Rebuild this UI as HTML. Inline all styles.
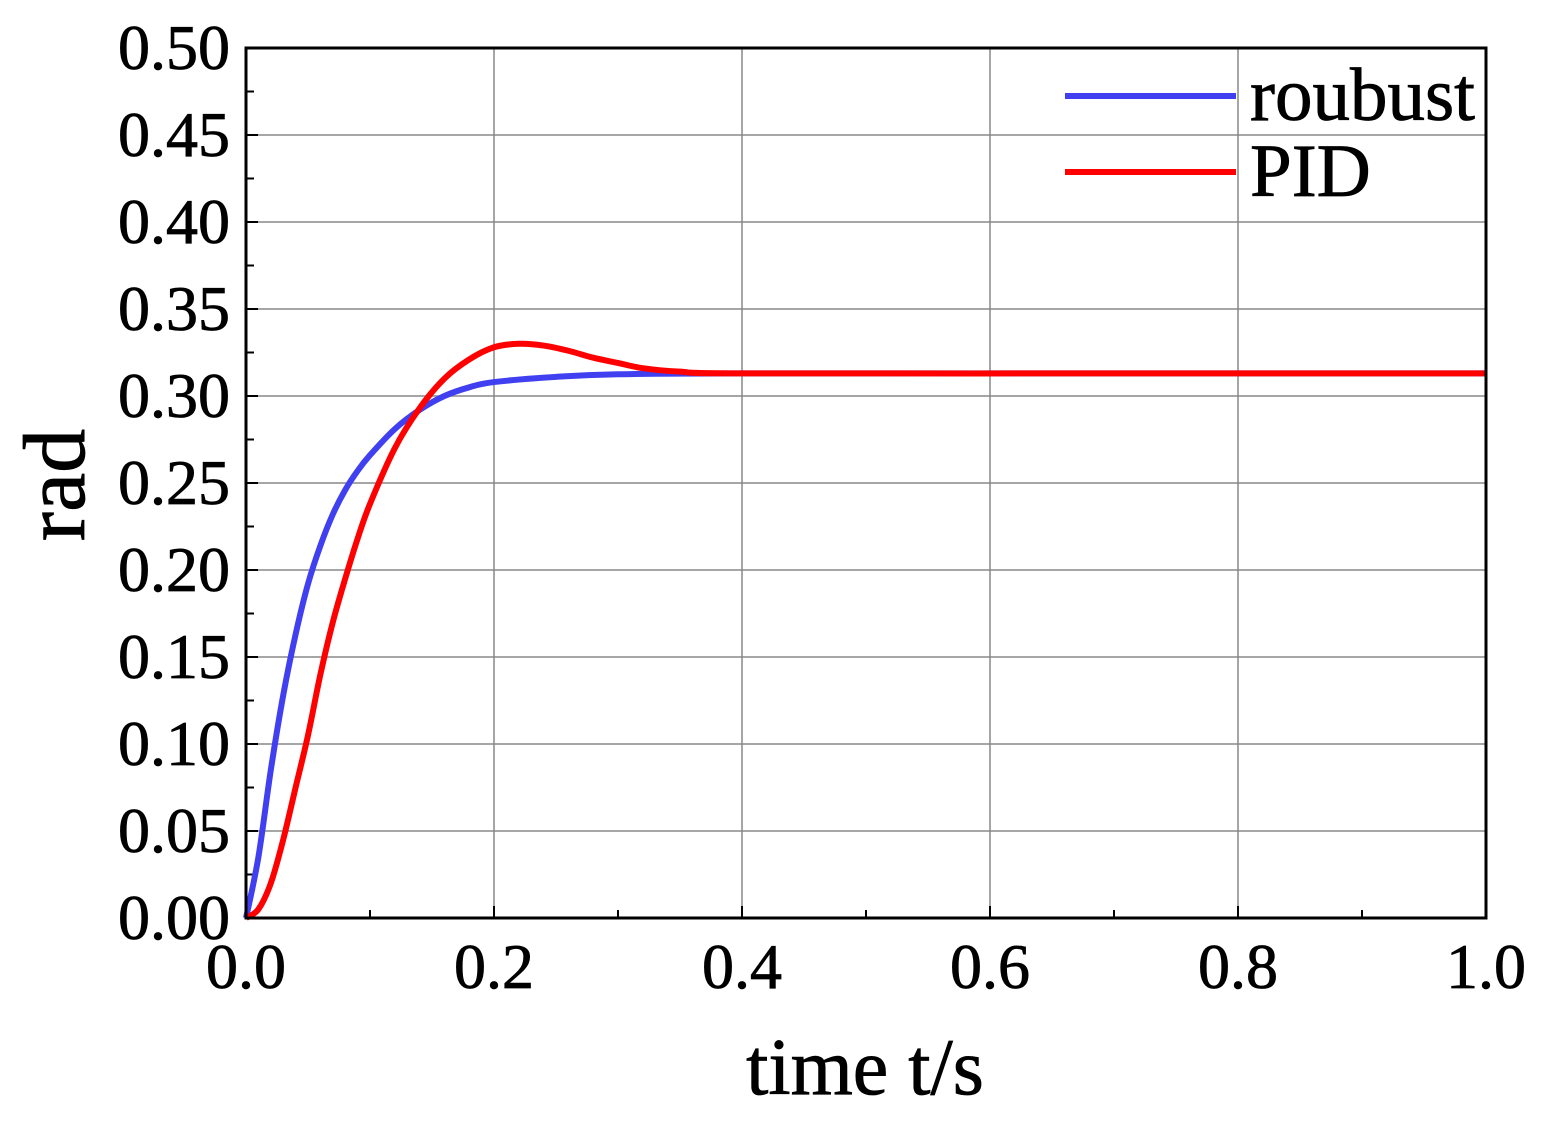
<!DOCTYPE html>
<html><head><meta charset="utf-8"><style>
html,body{margin:0;padding:0;background:#fff;}
svg{display:block;font-family:"Liberation Serif",serif;}
</style></head><body>
<svg id="s" width="1544" height="1128" viewBox="0 0 1544 1128" xmlns="http://www.w3.org/2000/svg">
<g id="grid" stroke="#888" stroke-width="1.5"></g>
<g id="ticks" stroke="#000" stroke-width="2"></g>
<path id="blue" fill="none" stroke="#4040f0" stroke-width="6"/>
<path id="red" fill="none" stroke="#ff0000" stroke-width="6"/>
<rect x="246" y="48" width="1240" height="870" fill="none" stroke="#000" stroke-width="3"/>
<g id="lab" font-size="64" fill="#000" stroke="#000" stroke-width="0.8"></g>
<text x="865" y="1094" font-size="80" text-anchor="middle" stroke="#000" stroke-width="0.8">time t/s</text>
<text transform="translate(84,485) rotate(-90)" font-size="88" text-anchor="middle" stroke="#000" stroke-width="0.8">rad</text>
<line x1="1065" y1="96" x2="1236" y2="96" stroke="#4040f0" stroke-width="6"/>
<line x1="1065" y1="172" x2="1236" y2="172" stroke="#ff0000" stroke-width="6"/>
<text x="1250" y="120" font-size="75" stroke="#000" stroke-width="0.8">roubust</text>
<text x="1250" y="196" font-size="75" stroke="#000" stroke-width="0.8">PID</text>
</svg>
<script>
const L=246,R=1486,T=48,B=918;
const X=t=>L+t*1240, Y=v=>B-v*1740;
const ns="http://www.w3.org/2000/svg";
function el(p,tag,a,txt){const e=document.createElementNS(ns,tag);for(const k in a)e.setAttribute(k,a[k]);if(txt!=null)e.textContent=txt;document.getElementById(p).appendChild(e);}
for(let i=1;i<5;i++){el("grid","line",{x1:X(i*0.2),x2:X(i*0.2),y1:T,y2:B});}
for(let i=1;i<10;i++){el("grid","line",{x1:L,x2:R,y1:Y(i*0.05),y2:Y(i*0.05)});}
for(let i=0;i<=10;i++){const x=X(i*0.1);el("ticks","line",{x1:x,x2:x,y1:B,y2:B-(i%2?8:12)});}
for(let i=0;i<=20;i++){const y=Y(i*0.025);el("ticks","line",{x1:L,x2:L+(i%2?8:12),y1:y,y2:y});}
for(let i=0;i<=5;i++){el("lab","text",{x:X(i*0.2),y:988,"text-anchor":"middle"},(i*0.2).toFixed(1));}
for(let i=0;i<=10;i++){el("lab","text",{x:230,y:Y(i*0.05)+21,"text-anchor":"end"},(i*0.05).toFixed(2));}
function path(pts){const p=pts.map(a=>[X(a[0]),Y(a[1])]);let d="M"+p[0][0]+","+p[0][1];
for(let i=0;i<p.length-1;i++){const p0=p[Math.max(0,i-1)],p1=p[i],p2=p[i+1],p3=p[Math.min(p.length-1,i+2)];
d+=` C${p1[0]+(p2[0]-p0[0])/6},${p1[1]+(p2[1]-p0[1])/6} ${p2[0]-(p3[0]-p1[0])/6},${p2[1]-(p3[1]-p1[1])/6} ${p2[0]},${p2[1]}`;}return d;}
const blue=[[0,0],[0.01,0.035],[0.02,0.085],[0.03,0.128],[0.04,0.163],[0.05,0.192],[0.06,0.214],[0.07,0.232],[0.08,0.246],[0.09,0.257],[0.1,0.266],[0.12,0.281],[0.14,0.292],[0.16,0.3],[0.18,0.305],[0.2,0.308],[0.25,0.311],[0.3,0.3125],[0.4,0.313],[0.7,0.313],[1,0.313]];
const red=[[0,0],[0.01,0.005],[0.02,0.02],[0.03,0.045],[0.04,0.075],[0.05,0.105],[0.06,0.14],[0.07,0.17],[0.08,0.195],[0.09,0.218],[0.1,0.238],[0.12,0.27],[0.14,0.293],[0.16,0.31],[0.18,0.321],[0.2,0.328],[0.22,0.33],[0.24,0.329],[0.26,0.326],[0.28,0.322],[0.3,0.319],[0.32,0.316],[0.35,0.314],[0.4,0.313],[0.7,0.313],[1,0.313]];
document.getElementById("blue").setAttribute("d",path(blue));
document.getElementById("red").setAttribute("d",path(red));
</script>
</body></html>
